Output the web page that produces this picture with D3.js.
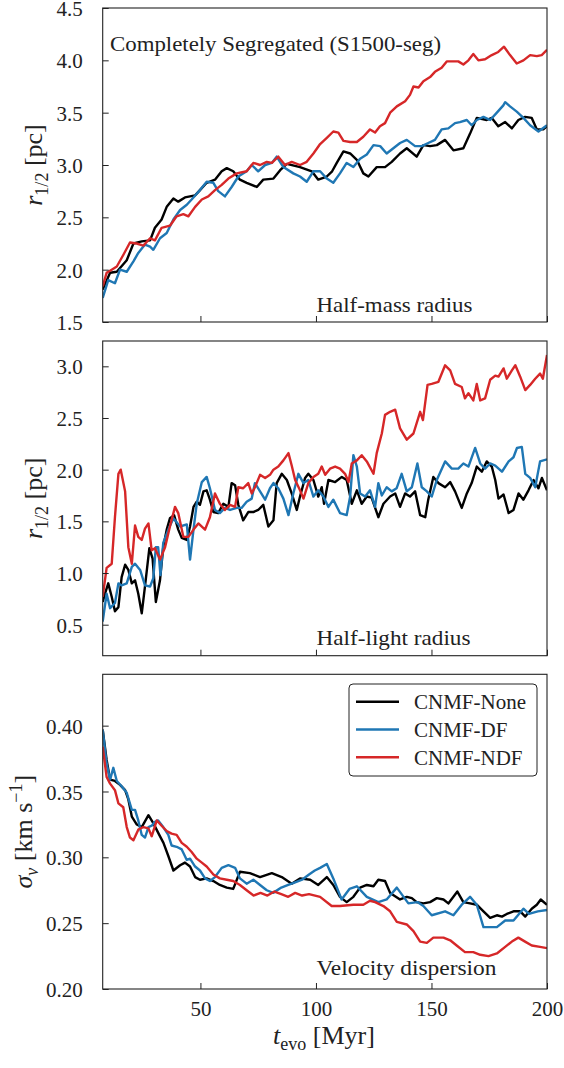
<!DOCTYPE html>
<html><head><meta charset="utf-8">
<script src="https://cdn.jsdelivr.net/npm/d3@7/dist/d3.min.js"></script>
<style>
html,body{margin:0;padding:0;background:#fff;}
svg text{font-family:"Liberation Serif","Times New Roman",serif;fill:#222;}
</style></head>
<body><svg id="chart" width="564" height="1068"></svg>
<script>
// ---------------- data ----------------
const seriesNames = ["CNMF-None", "CNMF-DF", "CNMF-NDF"];
const seriesColors = ["#000000", "#1f77b4", "#d62728"];
const xTicks = [50, 100, 150, 200];
const halfMassTicks = [1.5, 2.0, 2.5, 3.0, 3.5, 4.0, 4.5];
const halfLightTicks = [0.5, 1.0, 1.5, 2.0, 2.5, 3.0];
const velTicks = [0.20, 0.25, 0.30, 0.35, 0.40];

const halfMassNone = [[7.7,1.81],[10.9,1.97],[13.8,1.98],[18.1,2.09],[21,2.25],[24.6,2.27],[28.2,2.28],[30.3,2.40],[33.2,2.48],[35.4,2.60],[38.3,2.68],[40.4,2.65],[43.3,2.69],[47.7,2.71],[49.8,2.76],[52.7,2.83],[56.3,2.86],[59.2,2.94],[61.4,2.97],[64.2,2.94],[67.1,2.86],[70,2.83],[74.4,2.79],[77.2,2.86],[81.6,2.87],[84.5,2.95],[87.4,3.01],[93.1,2.98],[98.2,2.94],[101,2.86],[104.7,2.89],[107,2.94],[109,3.02],[111.9,3.13],[114.8,3.11],[117.7,3.05],[120.5,2.92],[122.7,2.89],[126.3,2.98],[129.9,2.98],[132.8,3.03],[136.4,3.11],[139.3,3.16],[143.6,3.08],[146.5,3.19],[149.4,3.18],[152.3,3.19],[155.9,3.24],[159.5,3.14],[163.8,3.16],[166.7,3.30],[169.6,3.45],[173.9,3.43],[176.1,3.45],[178.9,3.37],[181.9,3.41],[184.8,3.35],[187.6,3.43],[190.5,3.46],[193.4,3.45],[195.6,3.34],[198.4,3.34],[200,3.37]];
const halfMassDF = [[7.7,1.73],[10.1,1.90],[13,1.87],[15.2,2.0],[18.1,1.98],[21,2.08],[23.1,2.16],[26,2.24],[28.2,2.22],[29.6,2.19],[32.5,2.30],[35.4,2.35],[38.3,2.48],[41.2,2.57],[44.1,2.62],[46.2,2.67],[49.8,2.76],[52.7,2.84],[55.6,2.83],[57.7,2.75],[60.6,2.70],[63.5,2.79],[66.4,2.89],[70,2.94],[72.2,3.0],[75,2.94],[78,3.0],[80.9,3.02],[83,3.08],[85.9,2.98],[90.2,2.92],[93.1,2.89],[96,2.84],[98.9,2.94],[101.8,2.94],[104.7,2.87],[107.5,2.83],[110.4,2.92],[113.3,3.02],[116.2,2.98],[119.1,3.06],[122,3.10],[124.9,3.19],[127.8,3.18],[130.6,3.11],[133.5,3.16],[136.4,3.21],[139.3,3.24],[142.9,3.18],[145.8,3.18],[148.6,3.21],[151.5,3.24],[154.4,3.34],[157.3,3.35],[160.2,3.40],[162.3,3.41],[165.3,3.43],[167.4,3.38],[169.6,3.43],[172.5,3.46],[175.4,3.43],[178.3,3.50],[181.1,3.57],[181.9,3.60],[184,3.56],[186.9,3.51],[189.8,3.45],[192.7,3.38],[196.3,3.32],[200,3.38]];
const halfMassNDF = [[7.7,1.84],[9.4,1.97],[11.6,2.0],[13.8,2.03],[16.6,2.14],[19.5,2.26],[22.4,2.25],[25.3,2.23],[28.2,2.30],[30.3,2.28],[33.2,2.40],[36.8,2.42],[39.7,2.51],[42.6,2.53],[44.8,2.51],[47.7,2.60],[50.6,2.67],[53.4,2.70],[56.3,2.76],[59.2,2.81],[62.1,2.87],[65.7,2.92],[70,2.94],[72.9,3.02],[75.8,3.0],[78.7,3.03],[80.9,3.02],[83.7,3.08],[86.6,3.0],[89.5,3.03],[93.1,3.0],[96,3.03],[98.9,3.11],[101.8,3.20],[104.7,3.26],[107.5,3.32],[109.7,3.31],[111.9,3.23],[114.8,3.22],[117.7,3.22],[120.5,3.27],[123.4,3.34],[125.6,3.31],[127.7,3.37],[129.9,3.40],[132.1,3.50],[135,3.56],[138.6,3.61],[140.7,3.67],[142.2,3.75],[144.4,3.74],[146.5,3.80],[149.4,3.84],[151.5,3.89],[154.4,3.93],[156.6,3.99],[159.5,3.99],[161.6,3.99],[163.8,3.96],[166,4.0],[168.1,4.06],[170.3,4.0],[173.2,4.01],[176.1,4.05],[178.9,4.08],[181.4,4.13],[184,4.05],[186.9,3.97],[189.8,4.0],[192.7,4.05],[195.6,4.04],[197.7,4.05],[200,4.10]];

const halfLightNone = [[7.7,0.72],[8.7,0.80],[10.1,0.90],[11.6,0.77],[13,0.63],[14.5,0.67],[15.9,0.96],[17.4,1.08],[18.8,1.03],[20.3,0.90],[21.7,0.93],[23.1,0.80],[24.6,0.61],[26,0.87],[27.9,1.24],[29.3,1.14],[30.7,0.72],[32.5,0.93],[33.9,1.25],[35.4,1.42],[36.8,1.53],[38.6,1.56],[40.4,1.42],[41.9,1.34],[44.1,1.32],[45.5,1.45],[47,1.64],[48.4,1.69],[49.8,1.66],[51.3,1.79],[52.7,1.80],[54.1,1.71],[55.6,1.59],[57.7,1.58],[59.9,1.67],[62.1,1.64],[63.5,1.87],[65,1.85],[66.4,1.66],[68.5,1.51],[70.7,1.59],[72.9,1.59],[75,1.61],[77.2,1.66],[79.4,1.45],[81.6,1.51],[83,1.87],[85.2,1.96],[87.4,1.90],[89.5,1.77],[91.7,1.61],[93.1,1.74],[95.3,1.92],[96.7,1.96],[98.9,1.90],[101,1.74],[102.5,1.83],[103.5,1.67],[105.4,1.90],[108.3,1.88],[111.2,1.93],[113.3,1.90],[115.5,1.67],[117.7,1.80],[119.8,1.67],[122,1.74],[124.1,1.73],[127,1.54],[129.2,1.67],[132.1,1.74],[134.3,1.77],[136.4,1.64],[138.6,1.77],[140.7,1.74],[142.9,1.79],[145.1,1.56],[147.3,1.54],[148.6,1.71],[150.8,1.93],[153,1.87],[155.9,1.83],[158.1,1.88],[160.2,1.79],[163.1,1.63],[165.3,1.77],[167.4,1.87],[169.6,2.03],[171.8,1.98],[173.9,2.08],[176.1,2.03],[177.6,1.90],[179,1.72],[181.2,1.76],[183.4,1.58],[185.5,1.61],[187.7,1.77],[189.8,1.71],[192,1.80],[194.2,1.90],[196.3,1.82],[197.8,1.92],[200,1.80]];
const halfLightDF = [[7.7,0.53],[9.4,0.80],[10.9,0.66],[13,0.71],[14.5,0.90],[15.9,0.88],[18.1,0.90],[20.3,1.06],[21.7,1.09],[23.9,1.03],[26,0.88],[28.2,0.87],[29.6,0.95],[30.7,1.25],[31.7,1.25],[32.7,0.98],[33.9,1.29],[36.1,1.42],[38.3,1.53],[41.2,1.45],[44.1,1.47],[45.5,1.13],[47,1.42],[48.4,1.67],[50.6,1.88],[52.7,1.93],[54.1,1.82],[56.3,1.61],[58.4,1.58],[60.6,1.63],[62.8,1.61],[65.7,1.63],[67.8,1.63],[70,1.69],[72.2,1.72],[73.6,1.87],[75.8,1.79],[78,1.71],[80.1,1.82],[81.6,1.87],[83.7,1.82],[85.9,1.72],[88.1,1.56],[90.2,1.77],[92.4,1.96],[94.6,1.87],[96.7,1.90],[98.9,1.74],[101,1.80],[103.2,1.74],[105.4,1.64],[107.5,1.71],[110.4,1.58],[113.3,1.56],[114.8,1.74],[116.2,2.14],[117.7,2.03],[119.1,1.77],[121.3,1.74],[123.4,1.80],[125.6,1.64],[127,1.87],[128.5,1.75],[130.6,1.83],[132.8,1.79],[134.9,1.82],[137.1,1.96],[139.3,1.79],[141.5,1.83],[143.9,2.06],[145.8,1.83],[148,1.79],[150.1,1.74],[152.3,1.90],[155.9,2.08],[158.8,2.01],[161.6,2.01],[163.8,2.06],[166,2.03],[168.9,2.21],[171.1,2.06],[173.2,2.01],[175.4,2.06],[177.6,2.04],[180.5,1.98],[183.4,2.08],[185.5,2.12],[187,2.21],[189.1,2.22],[190.6,1.96],[192.7,1.92],[194.9,1.83],[197,2.08],[200,2.10]];
const halfLightNDF = [[7.7,0.77],[9.4,1.05],[11.6,1.09],[13,1.54],[14.5,1.96],[15.5,2.0],[17.4,1.79],[18.8,1.25],[20.3,1.09],[21.7,1.46],[23.1,1.35],[24.6,1.32],[26,1.43],[27.5,1.48],[28.9,1.22],[30.3,1.24],[32.5,1.13],[34.7,1.25],[36.8,1.45],[39,1.64],[40.4,1.58],[42.6,1.35],[44.8,1.35],[47,1.42],[49.1,1.48],[52,1.42],[54.1,1.54],[56.3,1.77],[58.4,1.67],[60.6,1.61],[62.8,1.66],[65,1.64],[66.4,1.83],[68.5,1.82],[70.7,1.87],[72.2,1.77],[73.6,1.83],[75.8,1.95],[78,1.92],[80.1,1.95],[81.6,2.0],[83.7,2.03],[85.9,2.09],[88.1,2.16],[89.5,2.04],[91,1.90],[93.1,1.80],[94.6,1.72],[96.7,1.87],[98.9,1.93],[101,1.96],[102.5,2.03],[104,1.95],[106.1,2.01],[108.3,2.03],[110.4,2.01],[112.6,1.96],[114.1,1.88],[115.5,2.06],[117.7,2.09],[119.8,2.14],[122,2.08],[124.9,1.96],[126.3,2.16],[128.5,2.35],[129.9,2.53],[132.1,2.56],[134.3,2.58],[136.4,2.40],[139.3,2.29],[142.2,2.35],[145.1,2.56],[146.3,2.48],[148.3,2.82],[150.1,2.83],[153,2.85],[155.9,3.01],[158.1,2.96],[160.2,2.83],[163.1,2.80],[164.5,2.69],[166,2.74],[168.1,2.67],[169.6,2.83],[171.1,2.67],[173.2,2.69],[175.4,2.87],[177.6,2.91],[179,2.90],[181.2,2.98],[182.6,2.88],[184.8,2.96],[186.3,3.01],[188.4,2.90],[190.6,2.77],[192.7,2.82],[194.9,2.88],[197,2.93],[198.2,2.88],[200,3.11]];

const velNone = [[7.7,0.397],[9.4,0.374],[10.9,0.359],[13,0.358],[15.2,0.355],[17.4,0.351],[18.8,0.344],[20.3,0.331],[22.4,0.325],[24.6,0.323],[27.5,0.332],[29.6,0.326],[31.9,0.318],[34,0.311],[36.1,0.301],[38.3,0.290],[41.2,0.294],[43.3,0.296],[45.5,0.293],[47.7,0.285],[49.8,0.283],[52.7,0.284],[55.6,0.282],[58.4,0.279],[61.4,0.277],[64.2,0.276],[67.1,0.289],[71.4,0.288],[75.8,0.285],[80.9,0.288],[85.2,0.285],[89.5,0.280],[93.1,0.284],[97.5,0.283],[101,0.279],[104.7,0.285],[107.5,0.279],[110.4,0.270],[113.3,0.266],[116.2,0.270],[119.1,0.277],[122,0.279],[124.9,0.278],[127,0.283],[129.9,0.282],[132.1,0.273],[136.4,0.268],[139.3,0.270],[141.5,0.269],[143.6,0.266],[146.5,0.265],[149.4,0.266],[152.3,0.269],[155.2,0.268],[157.3,0.265],[159.5,0.270],[161.2,0.274],[163.8,0.266],[166.7,0.265],[169.6,0.264],[172.5,0.259],[175.4,0.254],[178.3,0.256],[180.5,0.255],[182.6,0.257],[185.5,0.259],[188.4,0.259],[190.6,0.255],[193.4,0.261],[195.6,0.264],[197.3,0.268],[200,0.264]];
const velDF = [[7.7,0.397],[9.4,0.371],[10.9,0.359],[12.3,0.368],[13.8,0.358],[15.9,0.354],[18.1,0.349],[20.3,0.336],[21.7,0.336],[23.1,0.328],[24.6,0.317],[26,0.315],[27.5,0.323],[28.9,0.324],[30.3,0.327],[31.7,0.328],[33.9,0.323],[36.1,0.317],[37.5,0.309],[39.7,0.308],[41.9,0.306],[44.1,0.298],[45.5,0.299],[47.7,0.293],[49.8,0.290],[52,0.284],[54.1,0.282],[56.3,0.285],[59.2,0.292],[62.1,0.294],[65,0.292],[67.1,0.284],[70,0.280],[72.9,0.283],[75.8,0.279],[78.7,0.275],[81.5,0.273],[85,0.277],[88,0.279],[91,0.281],[94,0.283],[97,0.287],[99.5,0.290],[101.8,0.292],[104.7,0.295],[107.5,0.284],[111.1,0.268],[114.5,0.276],[117.7,0.278],[122,0.270],[127,0.266],[130.6,0.268],[135,0.277],[140,0.265],[143.9,0.266],[146.5,0.263],[150.1,0.256],[155.9,0.259],[159.5,0.256],[163.1,0.264],[166.7,0.270],[169.6,0.264],[172.5,0.247],[178.3,0.247],[181.9,0.252],[185.5,0.252],[189.8,0.261],[192.2,0.257],[196,0.259],[200,0.260]];
const velNDF = [[7.7,0.384],[9.4,0.361],[10.9,0.356],[13,0.351],[14.5,0.341],[16.6,0.338],[18.1,0.323],[19.5,0.315],[21,0.313],[23.1,0.321],[25.3,0.323],[27.5,0.322],[28.9,0.316],[31.1,0.328],[33.2,0.324],[35.4,0.320],[37.5,0.318],[39.7,0.317],[41.9,0.311],[44.1,0.308],[46.2,0.304],[48.4,0.299],[50.6,0.296],[52.7,0.293],[55.6,0.287],[58.4,0.284],[61.4,0.283],[64.2,0.282],[67.1,0.279],[70,0.275],[73,0.271],[76,0.273],[79,0.271],[82,0.274],[85,0.272],[88,0.270],[91,0.273],[94,0.271],[97,0.272],[101.8,0.270],[106.8,0.263],[110.4,0.263],[116.2,0.264],[120.5,0.264],[123.4,0.267],[125.6,0.266],[129.2,0.263],[132.1,0.259],[135,0.251],[139.3,0.249],[142.2,0.244],[145.1,0.236],[148,0.235],[150.8,0.239],[155.2,0.239],[158.1,0.237],[160.9,0.233],[164.5,0.228],[168.1,0.228],[171.1,0.226],[174.7,0.225],[178.3,0.227],[181.9,0.232],[184.8,0.236],[187.6,0.239],[190.5,0.236],[193.4,0.233],[197,0.232],[200,0.231]];

// ---------------- layout ----------------
const svg = d3.select("#chart");
const X0 = 102.7, X1 = 547;
const x = d3.scaleLinear().domain([7.7, 200]).range([X0, X1]);
const FS = 21;      // tick / legend / note font size
const LFS = 26;     // axis label font size
const SFS = 18;     // sub/superscript font size

const panels = [
  {top: 8, bottom: 322, domain: [1.5, 4.5], ticks: halfMassTicks, fmt: d3.format(".1f"),
   series: [halfMassNone, halfMassDF, halfMassNDF], note: "Half-mass radius", noteY: 311.7, noteW: 156,
   label: "r", sub: "1/2", unit: " [pc]", labelX: 42, xlabels: false},
  {top: 341, bottom: 655.7, domain: [0.2, 3.245], ticks: halfLightTicks, fmt: d3.format(".1f"),
   series: [halfLightNone, halfLightDF, halfLightNDF], note: "Half-light radius", noteY: 645.3, noteW: 154,
   label: "r", sub: "1/2", unit: " [pc]", labelX: 42, xlabels: false},
  {top: 674.3, bottom: 989, domain: [0.2, 0.439], ticks: velTicks, fmt: d3.format(".2f"),
   series: [velNone, velDF, velNDF], note: "Velocity dispersion", noteY: 974.7, noteW: 180,
   label: "σ", sub: "v", unit: "vel", labelX: 32, xlabels: true}
];

panels.forEach((p, i) => {
  const y = d3.scaleLinear().domain(p.domain).range([p.bottom, p.top]);
  const g = svg.append("g");
  const clipId = "clip" + i;
  svg.append("clipPath").attr("id", clipId).append("rect")
    .attr("x", X0).attr("y", p.top).attr("width", X1 - X0).attr("height", p.bottom - p.top);

  // lines
  const line = d3.line().x(d => x(d[0])).y(d => y(d[1]));
  p.series.forEach((s, k) => {
    g.append("path").datum(s).attr("d", line)
      .attr("fill", "none").attr("stroke", seriesColors[k])
      .attr("stroke-width", 2.4).attr("stroke-linejoin", "round")
      .attr("clip-path", `url(#${clipId})`);
  });

  // axes
  const yAxis = d3.axisLeft(y).tickValues(p.ticks).tickFormat(p.fmt).tickSize(-6).tickPadding(20);
  const ga = g.append("g").attr("transform", `translate(${X0},0)`).call(yAxis);
  const xAxis = d3.axisBottom(x).tickValues(xTicks).tickSize(-6).tickPadding(12)
    .tickFormat(p.xlabels ? d3.format("d") : () => "");
  const gx = g.append("g").attr("transform", `translate(0,${p.bottom})`).call(xAxis);
  [ga, gx].forEach(a => {
    a.attr("font-family", null);
    a.select(".domain").remove();
    a.selectAll(".tick line").attr("stroke", "#222").attr("stroke-width", 1);
    a.selectAll(".tick text").attr("font-size", FS).attr("fill", "#222")
      .style("font-family", '"Liberation Serif",serif');
  });
  ga.selectAll(".tick text").attr("dy", "0.36em");

  // frame
  g.append("rect").attr("x", X0).attr("y", p.top).attr("width", X1 - X0).attr("height", p.bottom - p.top)
    .attr("fill", "none").attr("stroke", "#222").attr("stroke-width", 1.1);

  // note
  g.append("text").attr("x", 316.5).attr("y", p.noteY).attr("font-size", FS)
    .attr("textLength", p.noteW).attr("lengthAdjust", "spacingAndGlyphs").text(p.note);

  // y label
  const cy = (p.top + p.bottom) / 2;
  const t = g.append("text").attr("transform", `translate(${p.labelX},${cy}) rotate(-90)`)
    .attr("text-anchor", "middle").attr("font-size", LFS);
  t.append("tspan").attr("font-style", "italic").text(p.label);
  t.append("tspan").attr("font-size", SFS).attr("dy", 6).attr("font-style", i < 2 ? "normal" : "italic").text(p.sub);
  if (p.unit === "vel") {
    t.append("tspan").attr("dy", -6).text(" [km s");
    t.append("tspan").attr("font-size", SFS).attr("dy", -10).text("−1");
    t.append("tspan").attr("dy", 10).text("]");
  } else {
    t.append("tspan").attr("dy", -6).text(p.unit);
  }
});

// title
svg.append("text").attr("x", 110).attr("y", 50.7).attr("font-size", FS)
  .attr("textLength", 331).attr("lengthAdjust", "spacingAndGlyphs")
  .text("Completely Segregated (S1500-seg)");

// x label
const xl = svg.append("text").attr("x", 324).attr("y", 1044).attr("text-anchor", "middle").attr("font-size", LFS);
xl.append("tspan").attr("font-style", "italic").text("t");
xl.append("tspan").attr("font-size", SFS).attr("dy", 6).text("evo");
xl.append("tspan").attr("dy", -6).text(" [Myr]");

// legend
const lg = svg.append("g");
lg.append("rect").attr("x", 349).attr("y", 684).attr("width", 188).attr("height", 92).attr("rx", 4)
  .attr("fill", "#fff").attr("stroke", "#222").attr("stroke-width", 1);
const rowY = d3.scalePoint().domain(seriesNames).range([701.7, 757.3]);
seriesNames.forEach((n, k) => {
  lg.append("line").attr("x1", 356).attr("x2", 399).attr("y1", rowY(n)).attr("y2", rowY(n))
    .attr("stroke", seriesColors[k]).attr("stroke-width", 2.4);
  lg.append("text").attr("x", 414).attr("y", rowY(n)).attr("dy", "0.35em").attr("font-size", FS).text(n);
});
</script></body></html>
